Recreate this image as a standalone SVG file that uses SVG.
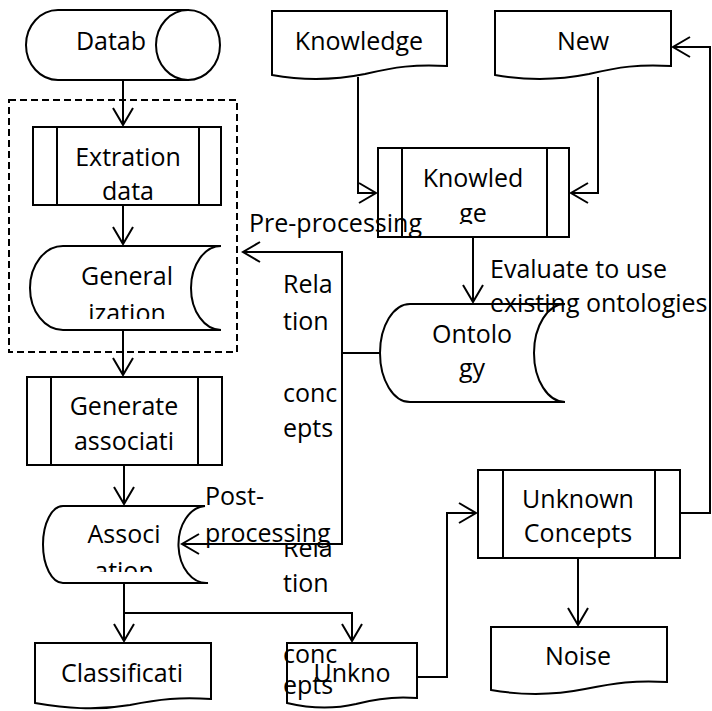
<svg xmlns="http://www.w3.org/2000/svg" width="712" height="711" viewBox="0 0 712 711">
<style>
.s{fill:#fff;stroke:#000;stroke-width:2}
.l{fill:none;stroke:#000;stroke-width:2}
.c{fill:none;stroke:#000;stroke-width:2;marker-end:url(#a)}
text{font-family:"Open Sans","Liberation Sans",sans-serif;font-size:25px;fill:#000}
.m{text-anchor:middle}
</style>
<defs>
<marker id="a" markerUnits="userSpaceOnUse" markerWidth="24" markerHeight="24" viewBox="-20 -12 24 24" refX="0" refY="0" orient="auto" overflow="visible">
<path d="M-17,-10 L0,0 L-17,10" fill="none" stroke="#000" stroke-width="2"/>
</marker>
<clipPath id="cg"><rect x="0" y="0" width="712" height="319"/></clipPath>
<clipPath id="ca"><rect x="0" y="0" width="712" height="572"/></clipPath>
<clipPath id="ck"><rect x="0" y="0" width="712" height="224"/></clipPath>
<clipPath id="cr"><rect x="0" y="545" width="712" height="166"/></clipPath>
</defs>
<rect x="9" y="100" width="228" height="252" fill="none" stroke="#000" stroke-width="2" stroke-dasharray="7,4"/>
<g id="database">
<path class="s" d="M58,10 H188 V80 H58 A32,35 0 0 1 58,10 Z"/>
<ellipse class="s" cx="188" cy="45" rx="32" ry="35"/>
<text class="m" x="111" y="50">Datab</text>
</g>
<g id="extration">
<rect class="s" x="33" y="127" width="188" height="78"/>
<path class="l" d="M57,127 V205 M199,127 V205"/>
<text class="m" x="128" y="166">Extration</text>
<text class="m" x="128" y="200">data</text>
</g>
<g id="generalization">
<path class="s" d="M63,246 H221 A30,42 0 0 0 221,330 H63 A33,42 0 0 1 63,246 Z"/>
<text class="m" x="127" y="285">General</text>
<text class="m" x="127" y="322" clip-path="url(#cg)">ization</text>
</g>
<g id="generate">
<rect class="s" x="27" y="377" width="195" height="88"/>
<path class="l" d="M51,377 V465 M198,377 V465"/>
<text class="m" x="124" y="415">Generate</text>
<text class="m" x="124" y="450">associati</text>
</g>
<g id="association">
<path class="s" d="M63,506 H205 A28,38.5 0 0 0 208,583 H63 A20,38.5 0 0 1 63,506 Z"/>
<text class="m" x="124" y="543">Associ</text>
<text class="m" x="124" y="580" clip-path="url(#ca)">ation</text>
</g>
<g id="classification">
<path class="s" d="M35,643 H211 V699 C180,697 160,699 130,705 C95,711 65,708 35,703 Z"/>
<text class="m" x="122" y="682">Classificati</text>
</g>
<g id="unknown-doc">
<path class="s" d="M287,643 H417 V698 C395,696 378,698 356,704 C330,710 308,708 287,703 Z"/>
<text class="m" x="352" y="682">Unkno</text>
</g>
<g id="knowledge-doc">
<path class="s" d="M272,11 H447 V66 C415,64 395,67 365,74 C330,81 300,80 272,75 Z"/>
<text class="m" x="359" y="50">Knowledge</text>
</g>
<g id="new-doc">
<path class="s" d="M495,11 H671 V66 C639,64 619,67 589,74 C554,81 524,80 495,75 Z"/>
<text class="m" x="583" y="50">New</text>
</g>
<g id="knowledge-box">
<rect class="s" x="378" y="148" width="191" height="89"/>
<path class="l" d="M402,148 V237 M547,148 V237"/>
<text class="m" x="473" y="187">Knowled</text>
<text class="m" x="473" y="222" clip-path="url(#ck)">ge</text>
</g>
<g id="ontology">
<path class="s" d="M410,304 H565 A31,49 0 0 0 565,402 H410 A30,49 0 0 1 410,304 Z"/>
<text class="m" x="472" y="343">Ontolo</text>
<text class="m" x="472" y="377">gy</text>
</g>
<g id="unknown-concepts">
<rect class="s" x="478" y="470" width="202" height="88"/>
<path class="l" d="M503,470 V558 M655,470 V558"/>
<text class="m" x="578" y="508">Unknown</text>
<text class="m" x="578" y="542">Concepts</text>
</g>
<g id="noise">
<path class="s" d="M491,627 H667 V682 C635,680 615,683 585,689 C550,696 520,695 491,690 Z"/>
<text class="m" x="578" y="665">Noise</text>
</g>
<g id="connectors">
<path class="c" d="M123,80 V125"/>
<path class="c" d="M123,205 V244"/>
<path class="c" d="M123,330 V375"/>
<path class="c" d="M124,465 V504"/>
<path class="c" d="M124,583 V641"/>
<path class="c" d="M124,613 H352 V641"/>
<path class="c" d="M358,77 V193 H376"/>
<path class="c" d="M598,77 V193 H571"/>
<path class="c" d="M473,237 V302"/>
<path class="c" d="M380,353 H342 V252 H243"/>
<path class="c" d="M342,353 V544 H182"/>
<path class="c" d="M417,677 H447 V513 H476"/>
<path class="c" d="M680,513 H710 V47 H673"/>
<path class="c" d="M578,558 V625"/>
</g>
<g id="labels">
<text x="249" y="232">Pre-processing</text>
<text x="490" y="278">Evaluate to use</text>
<text x="490" y="312">existing ontologies</text>
<text x="283" y="293">Rela</text>
<text x="283" y="330">tion</text>
<text x="283" y="402">conc</text>
<text x="283" y="437">epts</text>
<text x="205" y="505">Post-</text>
<text x="205" y="542">processing</text>
<text x="283" y="557" clip-path="url(#cr)">Rela</text>
<text x="283" y="592">tion</text>
<text x="283" y="663">conc</text>
<text x="283" y="694">epts</text>
</g>
</svg>
